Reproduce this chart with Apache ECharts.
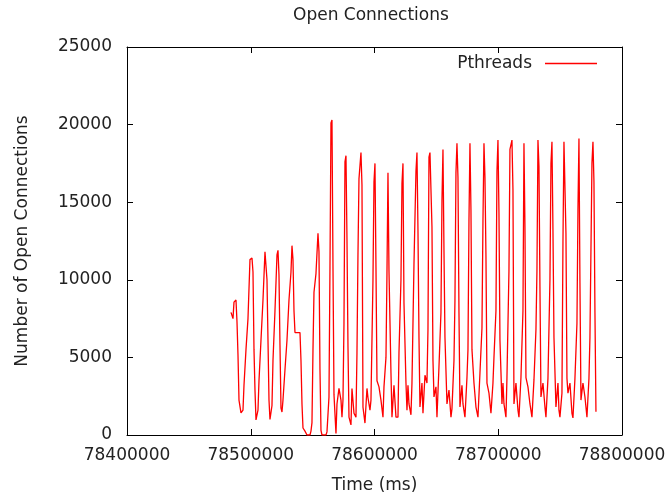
<!DOCTYPE html>
<html>
<head>
<meta charset="utf-8">
<script src="https://cdn.jsdelivr.net/npm/echarts@6/dist/echarts.min.js"></script>
<style>html,body{margin:0;padding:0;background:#fff}#c{width:669px;height:499px}</style>
</head>
<body>
<div id="c"></div>
<script>
var chartTitle = "Open Connections";
var seriesName = "Pthreads";
var xTitle = "Time (ms)";
var yTitle = "Number of Open Connections";
var xMin = 78400000, xMax = 78800000, xStep = 100000;
var yMin = 0, yMax = 25000, yStep = 5000;

var times = [
78484030,78485650,78486460,78488070,78488880,78489690,78490500,78492110,78493730,78494540,
78496150,78497770,78499380,78501000,78501810,78502620,78503420,78504230,78505850,78506660,
78508270,78509890,78511500,78512310,78513120,78513930,78514740,78515540,78517160,78517970,
78519580,78521200,78522010,78522820,78523620,78524430,78525240,78526050,78527660,78529280,
78530900,78532510,78533320,78534130,78534940,78535740,78539780,78540590,78541400,78542210,
78543820,78545440,78547860,78548670,78549480,78550290,78551100,78552710,78554330,78555140,
78555940,78556750,78557560,78560790,78561600,78563220,78564020,78564830,78565640,78566450,
78567260,78568870,78569680,78571300,78572910,78573720,78574530,78575340,78576140,78576950,
78577760,78578570,78579380,78580990,78581800,78583420,78585030,78585840,78586650,78587460,
78589070,78589880,78590690,78592300,78593920,78594730,78596340,78597150,78598770,78599580,
78600380,78601190,78602000,78603620,78605230,78606850,78607660,78609270,78610080,78610890,
78611700,78613310,78614120,78615740,78617350,78618970,78619780,78621390,78622200,78623010,
78623820,78625430,78626240,78627050,78627860,78629470,78630280,78631900,78633510,78634320,
78635130,78635940,78636740,78638360,78639170,78640780,78642400,78643210,78644020,78644820,
78646440,78647250,78648060,78649670,78650480,78652100,78653710,78654520,78655330,78656140,
78656940,78658560,78660180,78661790,78662600,78664220,78665020,78665830,78666640,78667450,
78668260,78669060,78670680,78671490,78673100,78674720,78675530,78676340,78677140,78677950,
78678760,78680380,78681990,78683610,78685220,78686840,78687650,78688460,78689260,78690070,
78690880,78692500,78694110,78695730,78696540,78698150,78698960,78699770,78700580,78701380,
78703000,78703810,78704620,78706230,78707040,78708660,78709460,78711080,78711890,78712700,
78714310,78715930,78716740,78718350,78719970,78720780,78721580,78722390,78724010,78725620,
78727240,78728860,78730470,78731280,78732090,78732900,78733700,78734510,78736130,78737740,
78738550,78740170,78741780,78742590,78743400,78744210,78745020,78746630,78748250,78749060,
78749860,78751480,78752290,78753100,78754710,78755520,78756330,78757940,78759560,78760370,
78761980,78763600,78764410,78765220,78766020,78766830,78768450,78770060,78771680,78773300,
78774100,78775720,78776530,78777340,78778140,78778950
];

var values = [
7900,7500,8560,8700,7300,5150,2250,1420,1600,3200,
5500,7500,11300,11400,10500,5500,2900,970,1600,3500,
6100,8700,11800,11800,10000,6100,2250,1000,1900,4800,
8000,11600,11900,10300,5800,1740,1480,2250,4200,6100,
8700,10500,12200,11300,8000,6600,6600,4800,2000,450,
250,0,0,250,800,5500,9200,10400,13000,11800,
4200,300,0,0,200,2450,10800,20100,20300,10800,
2600,100,2000,3000,2250,1150,2250,7200,17600,18000,
12600,5700,1150,650,3000,1400,1150,5300,11700,16500,
18200,16100,1800,770,3000,2400,1600,2250,10000,16300,
17500,10800,3500,3100,2250,1150,3100,5000,10400,16900,
10600,4000,1150,3200,1150,1150,5300,10000,16200,17500,
8500,3350,1600,3200,2000,1300,3350,11000,17000,18200,
13200,6300,1800,3350,1400,3850,3350,6800,17900,18200,
13400,4800,2450,3100,1150,4400,7900,15100,18400,11900,
6300,2000,2900,1150,1700,4800,8700,16900,18800,16600,
7900,1800,3200,2000,1150,3700,5500,13800,18800,14500,
5500,3350,1800,1150,4000,6900,13800,18800,16600,11500,
3350,2700,1400,3350,5000,8000,17000,19000,14300,6100,
2000,3350,2000,1150,3700,10600,18400,19000,15800,2000,
3350,1600,1150,3700,8000,18800,13400,3700,3100,2000,
1150,3550,6800,10600,19000,17300,9500,2450,3350,1800,
1150,3650,10000,17500,18900,13200,6300,1800,3350,1600,
1150,2700,12400,18900,13000,3650,2700,3350,1400,1100,
3650,7200,14500,19100,9800,2250,3350,2450,1150,3650,
6300,17500,18900,16300,7900,1500
];

var seriesData = times.map(function (t, i) { return [t, values[i]]; });

var FONT = "DejaVu Sans";
var TXT = "#222";
var chart = echarts.init(document.getElementById('c'), null, {renderer: 'canvas'});

var tickCommon = {show: true, inside: true, length: 6, lineStyle: {color: '#000', width: 1}};
var lineCommon = {show: true, onZero: false, lineStyle: {color: '#000', width: 1}};
function plain(v) { return String(v); }

chart.setOption({
  animation: false,
  backgroundColor: '#fff',
  title: {
    text: chartTitle, left: 293, top: 7, padding: 0,
    textStyle: {fontFamily: FONT, fontSize: 17, fontWeight: 'normal', color: TXT}
  },
  legend: {
    data: [{name: seriesName, icon: 'rect', itemStyle: {color: '#ff0000', borderWidth: 0}}],
    right: 72, top: 55, padding: 0, align: 'right',
    itemWidth: 52, itemHeight: 1.3,
    itemStyle: {color: '#ff0000', borderWidth: 0},
    textStyle: {fontFamily: FONT, fontSize: 17, color: TXT, padding: [0, 8, 0, 0]}
  },
  grid: {left: 127, right: 47, top: 47, bottom: 64, containLabel: false},
  xAxis: [{
    type: 'value', position: 'bottom', min: xMin, max: xMax, interval: xStep,
    name: xTitle, nameLocation: 'middle', nameGap: 42,
    nameTextStyle: {fontFamily: FONT, fontSize: 17, color: TXT},
    axisLine: lineCommon, axisTick: tickCommon, splitLine: {show: false},
    axisLabel: {fontFamily: FONT, fontSize: 17, color: TXT, margin: 12, formatter: plain}
  }, {
    type: 'value', position: 'top', min: xMin, max: xMax, interval: xStep,
    axisLine: lineCommon, axisTick: tickCommon, splitLine: {show: false},
    axisLabel: {show: false}
  }],
  yAxis: [{
    type: 'value', position: 'left', min: yMin, max: yMax, interval: yStep,
    name: yTitle, nameLocation: 'middle', nameGap: 96, nameRotate: 90,
    nameTextStyle: {fontFamily: FONT, fontSize: 17, color: TXT},
    axisLine: lineCommon, axisTick: tickCommon, splitLine: {show: false},
    axisLabel: {fontFamily: FONT, fontSize: 17, color: TXT, margin: 15, formatter: plain}
  }, {
    type: 'value', position: 'right', min: yMin, max: yMax, interval: yStep,
    axisLine: lineCommon, axisTick: tickCommon, splitLine: {show: false},
    axisLabel: {show: false}
  }],
  series: [{
    name: seriesName, type: 'line', xAxisIndex: 0, yAxisIndex: 0,
    data: seriesData, symbol: 'none', showSymbol: false,
    lineStyle: {color: '#ff0000', width: 1.3}, itemStyle: {color: '#ff0000'}
  }]
});
</script>
</body>
</html>
